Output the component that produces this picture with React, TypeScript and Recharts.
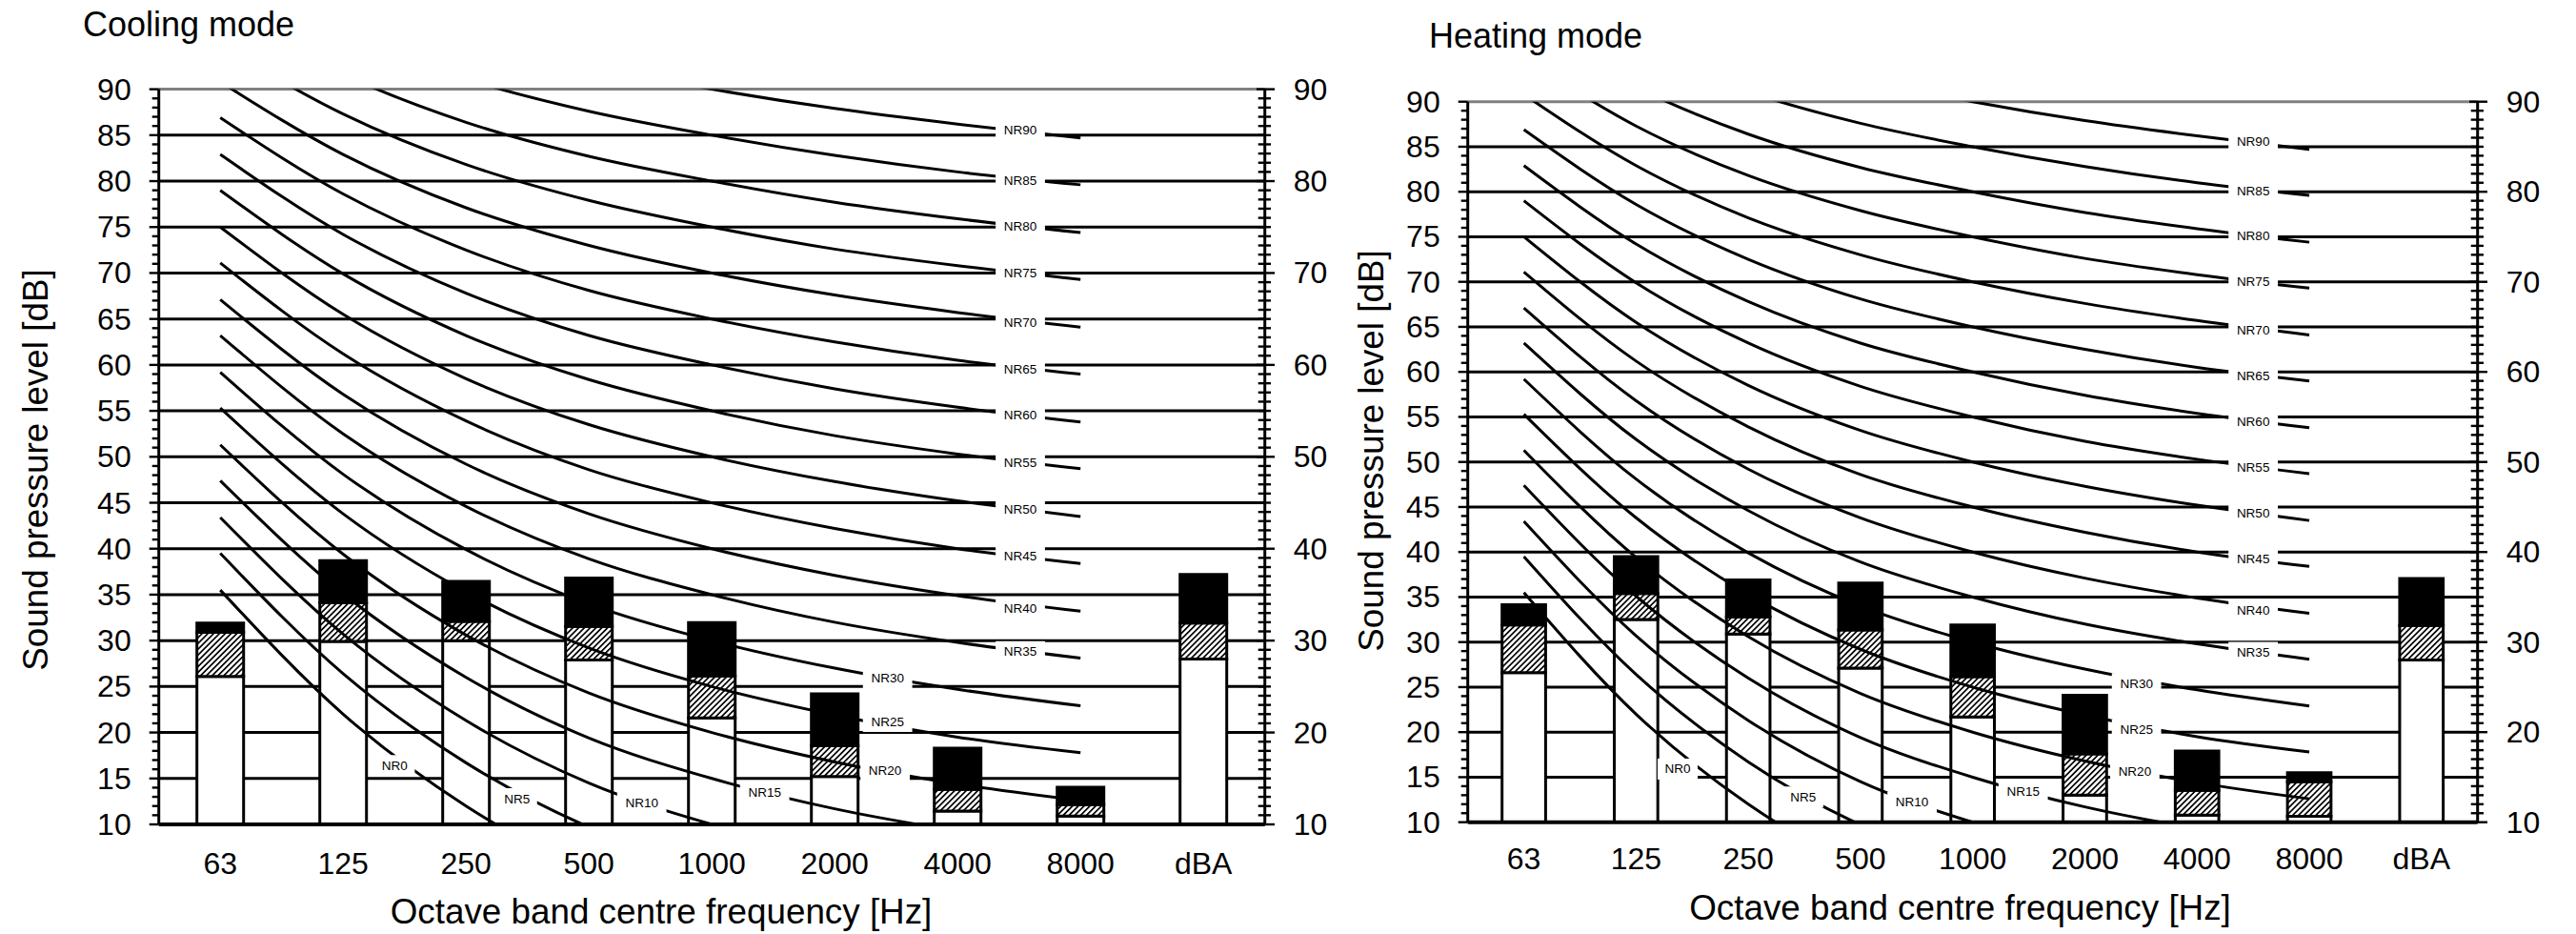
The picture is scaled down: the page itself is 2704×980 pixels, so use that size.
import React from 'react';
import { ComposedChart, Bar, Line, Scatter, XAxis, YAxis, CartesianGrid, ReferenceLine } from 'recharts';

const FONT = '"Liberation Sans", Arial, Helvetica, sans-serif';

// Octave band categories (x axis)
const bandLabels = ['63', '125', '250', '500', '1000', '2000', '4000', '8000', 'dBA'];

// Cooling mode: top of white / hatched / black part of each bar (dB)
const coolingLow = [26.1, 29.9, 30.0, 27.9, 21.6, 15.2, 11.45, 10.9, 28.0];
const coolingMid = [30.9, 34.1, 32.1, 31.55, 26.15, 18.55, 13.8, 12.15, 31.9];
const coolingHigh = [31.9, 38.7, 36.45, 36.8, 31.95, 24.2, 18.3, 14.05, 37.2];

// Heating mode
const heatingLow = [26.6, 32.5, 30.9, 27.1, 21.7, 13.0, 10.8, 10.65, 28.0];
const heatingMid = [31.9, 35.4, 32.8, 31.35, 26.15, 17.6, 13.55, 14.5, 31.85];
const heatingHigh = [34.15, 39.5, 36.9, 36.55, 31.9, 24.1, 17.9, 15.5, 37.05];

// NR curves, 63 Hz ... 8000 Hz
const nrLevels = [0, 5, 10, 15, 20, 25, 30, 35, 40, 45, 50, 55, 60, 65, 70, 75, 80, 85, 90];
const nr0 = [35.5, 22.0, 12.0, 4.8, 0, -3.5, -6.1, -8.0];
const nr5 = [39.5, 26.4, 16.7, 9.7, 5, 1.6, -1.0, -2.9];
const nr10 = [43.4, 30.7, 21.3, 14.5, 10, 6.7, 4.2, 2.3];
const nr15 = [47.4, 35.1, 26.0, 19.4, 15, 11.7, 9.3, 7.5];
const nr20 = [51.3, 39.4, 30.6, 24.3, 20, 16.8, 14.4, 12.6];
const nr25 = [55.3, 43.8, 35.3, 29.2, 25, 21.9, 19.5, 17.8];
const nr30 = [59.2, 48.1, 39.9, 34.0, 30, 27.0, 24.7, 22.9];
const nr35 = [63.2, 52.5, 44.6, 38.9, 35, 32.0, 29.8, 28.1];
const nr40 = [67.1, 56.8, 49.2, 43.8, 40, 37.1, 34.9, 33.2];
const nr45 = [71.1, 61.2, 53.9, 48.6, 45, 42.2, 40.0, 38.4];
const nr50 = [75.0, 65.5, 58.5, 53.5, 50, 47.3, 45.2, 43.5];
const nr55 = [79.0, 69.9, 63.2, 58.4, 55, 52.3, 50.3, 48.7];
const nr60 = [82.9, 74.2, 67.8, 63.2, 60, 57.4, 55.4, 53.8];
const nr65 = [86.9, 78.6, 72.5, 68.1, 65, 62.5, 60.5, 59.0];
const nr70 = [90.8, 82.9, 77.1, 73.0, 70, 67.6, 65.7, 64.1];
const nr75 = [94.8, 87.3, 81.8, 77.9, 75, 72.6, 70.8, 69.3];
const nr80 = [98.7, 91.6, 86.4, 82.7, 80, 77.7, 75.9, 74.4];
const nr85 = [102.7, 96.0, 91.1, 87.6, 85, 82.8, 81.0, 79.6];
const nr90 = [106.6, 100.3, 95.7, 92.5, 90, 87.9, 86.2, 84.7];
const nrCurves = [nr0, nr5, nr10, nr15, nr20, nr25, nr30, nr35, nr40, nr45, nr50, nr55, nr60, nr65, nr70, nr75, nr80, nr85, nr90];

// NR label positions (x in band index units, y in dB)
const coolingLabelX = [1.42, 2.415, 3.43, 4.43, 5.41, 5.43, 5.43, 6.51, 6.51, 6.51, 6.51, 6.51, 6.51, 6.51, 6.51, 6.51, 6.51, 6.51, 6.51];
const coolingLabelY = [16.4, 12.8, 12.3, 13.45, 15.9, 21.2, 25.9, 28.8, 33.5, 39.2, 44.3, 49.4, 54.5, 59.55, 64.6, 70.0, 75.1, 80.1, 85.55];
const heatingLabelX = [1.37, 2.49, 3.46, 4.45, 5.445, 5.46, 5.46, 6.5, 6.5, 6.5, 6.5, 6.5, 6.5, 6.5, 6.5, 6.5, 6.5, 6.5, 6.5];
const heatingLabelY = [15.9, 12.8, 12.2, 13.45, 15.6, 20.25, 25.4, 28.85, 33.5, 39.25, 44.3, 49.4, 54.5, 59.55, 64.6, 70.0, 75.1, 80.1, 85.55];

const gridValues = [15, 20, 25, 30, 35, 40, 45, 50, 55, 60, 65, 70, 75, 80, 85];
const yTicks = [10, 11, 12, 13, 14, 15, 16, 17, 18, 19, 20, 21, 22, 23, 24, 25, 26, 27, 28, 29, 30, 31, 32, 33, 34, 35, 36, 37, 38, 39, 40, 41, 42, 43, 44, 45, 46, 47, 48, 49, 50, 51, 52, 53, 54, 55, 56, 57, 58, 59, 60, 61, 62, 63, 64, 65, 66, 67, 68, 69, 70, 71, 72, 73, 74, 75, 76, 77, 78, 79, 80, 81, 82, 83, 84, 85, 86, 87, 88, 89, 90];
const xTicks = [0, 1, 2, 3, 4, 5, 6, 7, 8];

function buildRows(low: number[], mid: number[], high: number[]) {
  return bandLabels.map((band, i) => {
    const row: any = { x: i, band, lo: low[i], hatch: mid[i] - low[i], top: high[i] - mid[i] };
    nrLevels.forEach((lv, k) => {
      row[`nr${lv}`] = i < nrCurves[k].length ? nrCurves[k][i] : null;
    });
    return row;
  });
}

function buildLabels(xs: number[], ys: number[]) {
  return nrLevels.map((lv, k) => ({ x: xs[k], y: ys[k], name: `NR${lv}` }));
}

const LeftTick = (props: any) => {
  const { x, y, payload } = props;
  const v = Number(payload.value);
  const major = v % 5 === 0;
  return (
    <g>
      <line x1={x - (major ? 10 : 7)} x2={x} y1={y} y2={y} stroke="#000" strokeWidth={2.4} />
      {major && (
        <text x={x - 29} y={y} textAnchor="end" dominantBaseline="central" fontSize={32} fontFamily={FONT} fill="#000">
          {v}
        </text>
      )}
    </g>
  );
};

const RightTick = (props: any) => {
  const { x, y, payload } = props;
  const v = Number(payload.value);
  const major = v % 10 === 0;
  return (
    <g>
      <line x1={x - (major ? 8.7 : 7)} x2={x + (major ? 10.3 : 6.3)} y1={y} y2={y} stroke="#000" strokeWidth={2.4} />
      {major && (
        <text x={x + 30} y={y} textAnchor="start" dominantBaseline="central" fontSize={32} fontFamily={FONT} fill="#000">
          {v}
        </text>
      )}
    </g>
  );
};

const makeXTick = (dy: number) => (props: any) => {
  const { x, y, payload } = props;
  return (
    <text x={x} y={y + dy} textAnchor="middle" fontSize={32} fontFamily={FONT} fill="#000">
      {bandLabels[Number(payload.value)]}
    </text>
  );
};

const NrLabel = (props: any) => {
  const { cx, cy, payload } = props;
  const name: string = payload.name;
  const w = name.length * 9.7 + 13;
  return (
    <g>
      <rect x={cx - w / 2} y={cy - 11} width={w} height={22} fill="#fff" />
      <text x={cx} y={cy} textAnchor="middle" dominantBaseline="central" fontSize={13.5} fontFamily={FONT} fill="#000">
        {name}
      </text>
    </g>
  );
};

type ChartProps = {
  low: number[];
  mid: number[];
  high: number[];
  labelX: number[];
  labelY: number[];
  width: number;
  margin: { top: number; right: number; bottom: number; left: number };
  barSize: number;
  tickDy: number;
};

function NoiseChart({ low, mid, high, labelX, labelY, width, margin, barSize, tickDy }: ChartProps) {
  const rows = buildRows(low, mid, high);
  const labels = buildLabels(labelX, labelY);
  return (
    <ComposedChart width={width} height={980} data={rows} margin={margin}>
      <CartesianGrid vertical={false} horizontalValues={gridValues} stroke="#000" strokeWidth={3} />
      <XAxis
        xAxisId={0}
        type="number"
        dataKey="x"
        domain={[-0.5, 8.5]}
        ticks={xTicks}
        interval={0}
        tickLine={false}
        tickSize={0}
        tickMargin={0}
        axisLine={{ stroke: '#000', strokeWidth: 4 }}
        tick={makeXTick(tickDy)}
        height={60}
      />
      <XAxis xAxisId="band" type="category" dataKey="band" hide />
      <YAxis
        yAxisId={0}
        type="number"
        domain={[10, 90]}
        ticks={yTicks}
        interval={0}
        allowDataOverflow
        width={80}
        tickLine={false}
        tickSize={0}
        tickMargin={0}
        axisLine={{ stroke: '#000', strokeWidth: 3 }}
        tick={LeftTick}
      />
      <YAxis
        yAxisId="r"
        orientation="right"
        type="number"
        domain={[10, 90]}
        ticks={yTicks}
        interval={0}
        allowDataOverflow
        width={60}
        tickLine={false}
        tickSize={0}
        tickMargin={0}
        axisLine={{ stroke: '#000', strokeWidth: 3 }}
        tick={RightTick}
      />
      <ReferenceLine y={90} stroke="#808080" strokeWidth={3} />
      <Bar xAxisId="band" dataKey="lo" stackId="s" fill="#fff" stroke="#000" strokeWidth={3} barSize={barSize} isAnimationActive={false} />
      <Bar xAxisId="band" dataKey="hatch" stackId="s" fill="url(#hatchFill)" stroke="#000" strokeWidth={3} barSize={barSize} isAnimationActive={false} />
      <Bar xAxisId="band" dataKey="top" stackId="s" fill="#000" stroke="#000" strokeWidth={3} barSize={barSize} isAnimationActive={false} />
      {nrLevels.map((lv) => (
        <Line
          key={lv}
          dataKey={`nr${lv}`}
          type="monotone"
          stroke="#000"
          strokeWidth={3}
          dot={false}
          activeDot={false}
          isAnimationActive={false}
          legendType="none"
        />
      ))}
      <Scatter data={labels} dataKey="y" shape={NrLabel} isAnimationActive={false} />
    </ComposedChart>
  );
}

export default function App() {
  return (
    <div style={{ position: 'absolute', left: 0, top: 0, width: 2704, height: 980, background: '#fff', fontFamily: FONT }}>
      <svg width={0} height={0} style={{ position: 'absolute' }}>
        <defs>
          <pattern id="hatchFill" patternUnits="userSpaceOnUse" width={4.3} height={4.3} patternTransform="rotate(45)">
            <rect x={0} y={0} width={4.3} height={4.3} fill="#fff" />
            <rect x={0} y={0} width={1.7} height={4.3} fill="#000" />
          </pattern>
        </defs>
      </svg>
      <div style={{ position: 'absolute', left: 0, top: 0 }}>
        <NoiseChart
          low={coolingLow}
          mid={coolingMid}
          high={coolingHigh}
          labelX={coolingLabelX}
          labelY={coolingLabelY}
          width={1400}
          margin={{ top: 93.6, right: 12.3, bottom: 55, left: 86.7 }}
          barSize={49}
          tickDy={52}
        />
      </div>
      <div style={{ position: 'absolute', left: 1400, top: 0 }}>
        <NoiseChart
          low={heatingLow}
          mid={heatingMid}
          high={heatingHigh}
          labelX={heatingLabelX}
          labelY={heatingLabelY}
          width={1304}
          margin={{ top: 106.7, right: 43.3, bottom: 57.3, left: 60.7 }}
          barSize={45.7}
          tickDy={49}
        />
      </div>
      <svg width={2704} height={980} style={{ position: 'absolute', left: 0, top: 0, pointerEvents: 'none' }}>
        <g fontFamily={FONT} fill="#000">
          <text x={87} y={38} fontSize={36}>Cooling mode</text>
          <text x={1500} y={50} fontSize={36}>Heating mode</text>
          <text x={50} y={493} fontSize={36.8} textAnchor="middle" transform="rotate(-90 50 493)">Sound pressure level [dB]</text>
          <text x={1452} y={473} fontSize={36.8} textAnchor="middle" transform="rotate(-90 1452 473)">Sound pressure level [dB]</text>
          <text x={694} y={969} fontSize={36.8} textAnchor="middle">Octave band centre frequency [Hz]</text>
          <text x={2057.5} y={965} fontSize={36.8} textAnchor="middle">Octave band centre frequency [Hz]</text>
        </g>
      </svg>
    </div>
  );
}
